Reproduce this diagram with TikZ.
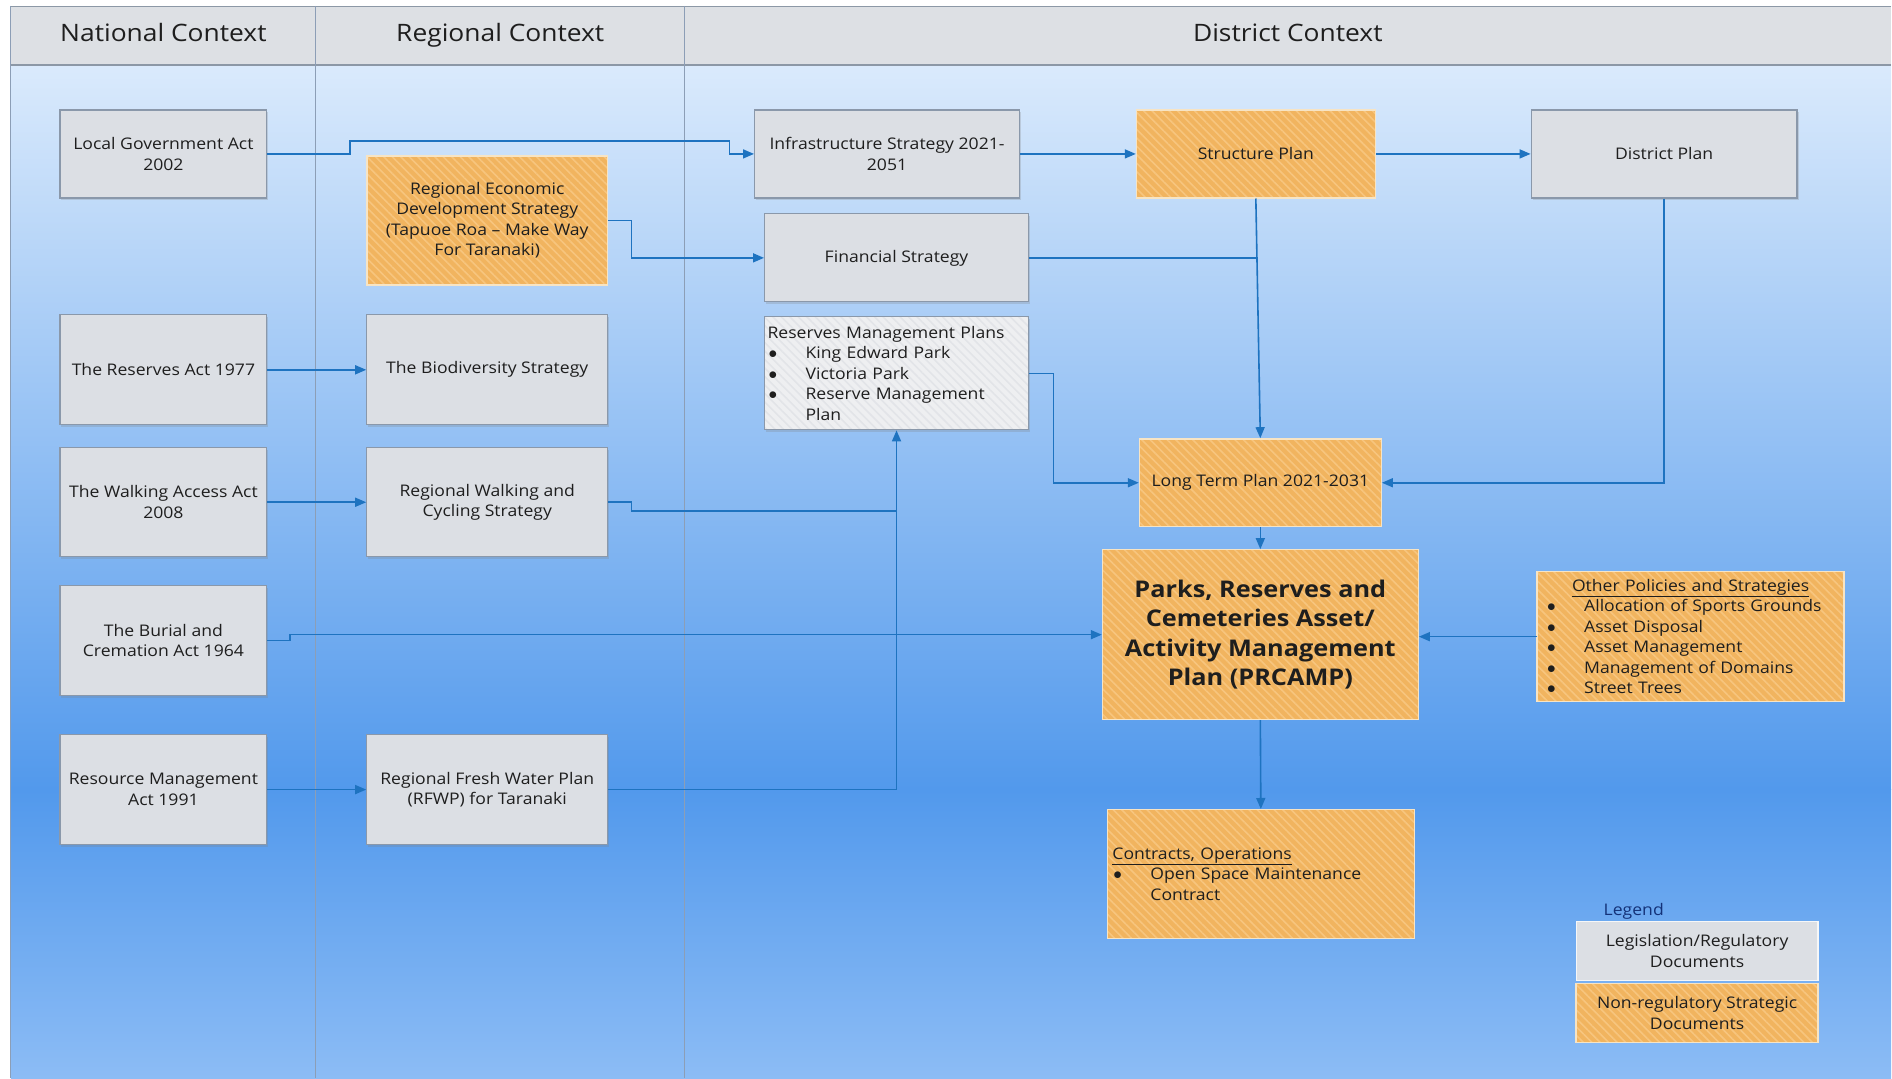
\documentclass[tikz,border=0pt]{standalone}
\usepackage{fontspec}
\setmainfont{Open Sans}[FakeStretch=1.1]
\usetikzlibrary{arrows.meta,patterns.meta,shadows}

\definecolor{bgtop}{RGB}{218,234,252}
\definecolor{bgmid}{RGB}{82,153,236}
\definecolor{bgbot}{RGB}{140,188,245}
\definecolor{hdrfill}{RGB}{221,224,228}
\definecolor{hdrline}{RGB}{140,152,166}
\definecolor{colline}{RGB}{140,158,182}
\definecolor{boxgray}{RGB}{220,223,228}
\definecolor{boxedge}{RGB}{138,152,170}
\definecolor{boxorange}{RGB}{241,180,95}
\definecolor{stripe}{RGB}{247,197,126}
\definecolor{orangeedge}{RGB}{247,228,196}
\definecolor{boxpale}{RGB}{238,239,241}
\definecolor{stripepale}{RGB}{226,228,232}
\definecolor{linkblue}{RGB}{30,115,192}
\definecolor{legendtxt}{RGB}{20,50,120}
\definecolor{ink}{RGB}{30,30,30}

% list bullet followed by a fixed hanging indent
\newcommand\lstb{\makebox[38pt][l]{\hspace*{1pt}$\bullet$}}

\begin{document}
\begin{tikzpicture}[x=1pt,y=-1pt,
  txt/.style={font=\fontsize{16}{20.5}\selectfont, text=ink},
  hdr/.style={font=\fontsize{24}{28}\selectfont, text=ink, anchor=base},
  basebox/.style={txt, rectangle, inner sep=2pt, align=center, line width=1.2pt},
  gbox/.style={basebox, draw=boxedge, fill=boxgray,
    drop shadow={shadow xshift=1.5pt, shadow yshift=-2.5pt, opacity=.25}},
  obox/.style={basebox, fill=boxorange,
    postaction={pattern={Lines[angle=-45,distance=6pt,line width=1.6pt]}, pattern color=stripe},
    postaction={draw=orangeedge, line width=1.5pt}},
  pbox/.style={basebox, fill=boxpale,
    drop shadow={shadow xshift=1.5pt, shadow yshift=-2.5pt, opacity=.25},
    postaction={pattern={Lines[angle=-45,distance=6pt,line width=1.6pt]}, pattern color=stripepale},
    postaction={draw=boxedge, line width=1.2pt}},
  lbox/.style={basebox, draw=white!75!boxgray, fill=boxgray},
  sz/.style 2 args={minimum width=#1, minimum height=#2},
  conn/.style={draw=linkblue, line width=1.6pt},
  arr/.style={conn, -{Triangle[length=11pt,width=9pt]}},
]
% page and swim-lane background
\fill[white] (0,0) rectangle (1892,1079);
\shade[top color=bgtop, bottom color=bgmid] (11,65) rectangle (1892,790);
\shade[top color=bgmid, bottom color=bgbot] (11,790) rectangle (1892,1079);
\fill[hdrfill] (11,6) rectangle (1892,65);
\draw[hdrline, line width=1pt] (1892,6) -- (11,6) -- (11,65);
\draw[hdrline, line width=2pt] (11,65) -- (1892,65);
\draw[colline, line width=1pt] (11,6) -- (11,1079);
\draw[colline, line width=1pt] (316,6) -- (316,1079);
\draw[colline, line width=1pt] (685,6) -- (685,1079);

% lane headings
\node[hdr] (hnat) at (163.5,41.5) {National Context};
\node[hdr] (hreg) at (500.5,41.5) {Regional Context};
\node[hdr] (hdis) at (1288.5,41.5) {District Context};

% documents
\node[gbox, sz={207pt}{88pt}] (lga) at (163.5,154) {Local Government Act\\2002};
\node[obox, sz={241pt}{129pt}] (reds) at (487.5,220.5) {Regional Economic\\Development Strategy\\(Tapuoe Roa – Make Way\\For Taranaki)};
\node[gbox, sz={265pt}{88pt}] (infra) at (887.5,154) {Infrastructure Strategy 2021-\\2051};
\node[obox, sz={239pt}{88pt}] (struct) at (1256.5,154) {Structure Plan};
\node[gbox, sz={266pt}{88pt}] (dplan) at (1665,154) {District Plan};
\node[gbox, sz={264pt}{88pt}] (fin) at (897,258) {Financial Strategy};
\node[gbox, sz={207pt}{110pt}] (resact) at (163.5,370) {The Reserves Act 1977};
\node[gbox, sz={241pt}{110pt}] (bio) at (487.5,370) {The Biodiversity Strategy};
\node[pbox, sz={264pt}{113pt}, text width=258pt, inner xsep=3pt, align=left] (rmp) at (897,373.5)
  {Reserves Management Plans\\
   \lstb King Edward Park\\
   \lstb Victoria Park\\
   \lstb Reserve Management\\
   \hspace*{38pt}Plan};
\node[gbox, sz={207pt}{109pt}] (walk) at (163.5,502.5) {The Walking Access Act\\2008};
\node[gbox, sz={241pt}{109pt}] (rwc) at (487.5,502.5) {Regional Walking and\\Cycling Strategy};
\node[gbox, sz={207pt}{110pt}] (burial) at (163.5,641) {The Burial and\\Cremation Act 1964};
\node[gbox, sz={207pt}{110pt}] (rma) at (163.5,790) {Resource Management\\Act 1991};
\node[gbox, sz={241pt}{110pt}] (rfwp) at (487.5,790) {Regional Fresh Water Plan\\(RFWP) for Taranaki};
\node[obox, sz={242pt}{88pt}] (ltp) at (1261,483) {Long Term Plan 2021-2031};
\node[obox, sz={316pt}{170pt}, font=\fontsize{23}{29.6}\selectfont\bfseries] (prcamp) at (1261,635)
  {Parks, Reserves and\\Cemeteries Asset/\\Activity Management\\Plan (PRCAMP)};
\node[obox, sz={307pt}{130pt}, text width=289pt, inner xsep=9pt, align=left] (other) at (1691.5,637)
  {\makebox[289pt]{\underline{Other Policies and Strategies}}\\
   \lstb Allocation of Sports Grounds\\
   \lstb Asset Disposal\\
   \lstb Asset Management\\
   \lstb Management of Domains\\
   \lstb Street Trees};
\node[obox, sz={307pt}{129pt}, text width=297pt, inner xsep=5pt, align=left] (contr) at (1261.5,874.5)
  {\underline{Contracts, Operations}\\
   \lstb Open Space Maintenance\\
   \hspace*{38pt}Contract};

% legend
\node[txt, text=legendtxt, anchor=west] (legtitle) at (1601,912) {Legend};
\node[lbox, sz={242pt}{59pt}] (leg1) at (1698,951.5) {Legislation/Regulatory\\Documents};
\node[obox, sz={242pt}{59pt}] (leg2) at (1698,1013.5) {Non-regulatory Strategic\\Documents};

% connectors
\coordinate (jw) at (897,511);
\draw[arr] (lga.east) -| (350,141) -| (730,154) -- (infra.west);
\draw[arr] (infra.east) -- (struct.west);
\draw[arr] (struct.east) -- (dplan.west);
\draw[arr] (reds.east) -| (632,258) -- (fin.west);
\draw[conn] (fin.east) -- (fin.east -| struct.south);
\draw[arr] (struct.south) -- (ltp.north);
\draw[arr] (dplan.south) |- (ltp.east);
\draw[arr] (rmp.east) -| (1054,483) -- (ltp.west);
\draw[arr] (ltp.south) -- (prcamp.north);
\draw[arr] (resact.east) -- (bio.west);
\draw[arr] (walk.east) -- (rwc.west);
\draw[conn] (rwc.east) -| (632,511) -- (jw);
\draw[arr] (rfwp.east) -| (rmp.south);
\draw[arr] (burial.east) -| (290,635) -- (prcamp.west);
\draw[arr] (rma.east) -- (rfwp.west);
\draw[arr] (other.west) -- (other.west -| prcamp.east);
\draw[arr] (prcamp.south) -- (contr.north);
\end{tikzpicture}
\end{document}
